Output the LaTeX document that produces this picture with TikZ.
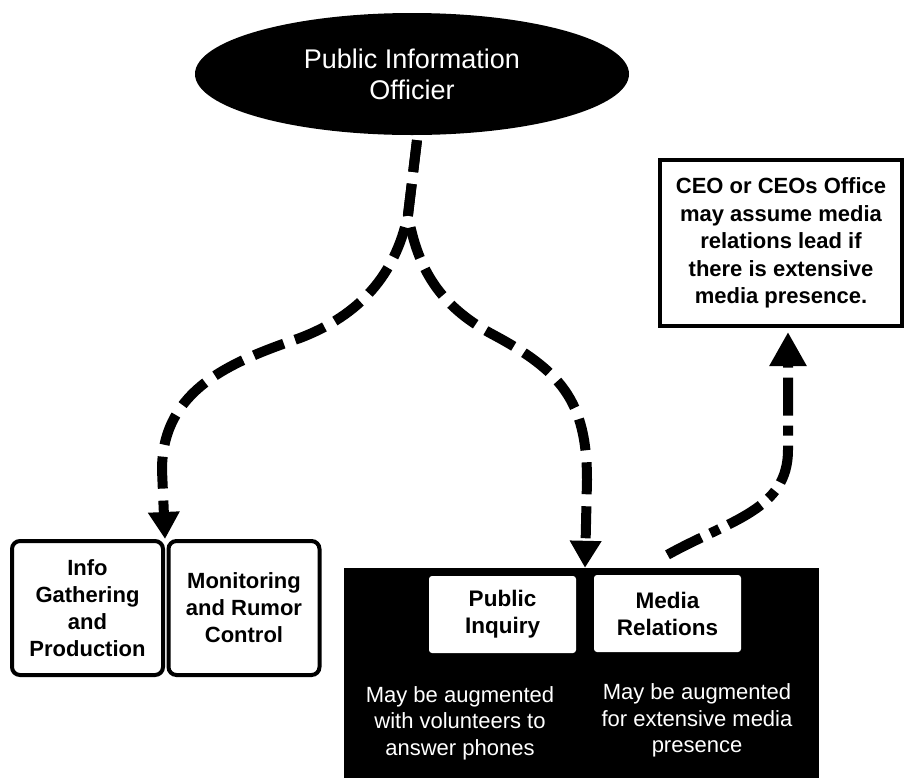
\documentclass[tikz,border=0pt]{standalone}
\usepackage{fontspec}
\setmainfont{Liberation Sans}
\usetikzlibrary{arrows.meta,shapes.geometric,calc}
\begin{document}
\begin{tikzpicture}[x=1pt,y=-1pt,
  flow/.style={line width=10pt, dash pattern=on 32pt off 12pt,
    -{Triangle[length=27pt,width=30pt]}},
  flowdot/.style={line width=10pt, dash pattern=on 38pt off 10pt on 10pt off 10pt,
    -{Triangle[length=34pt,width=35pt]}},
  unitbox/.style={draw, line width=4pt, rounded corners=8pt, fill=white,
    minimum width=151pt, minimum height=134pt, inner sep=0pt, align=center,
    font=\fontsize{22}{27}\selectfont\bfseries},
  teambox/.style={fill=white, rounded corners=3pt, minimum width=147pt,
    minimum height=77pt, inner sep=0pt, align=center,
    font=\fontsize{22.5}{27}\selectfont\bfseries},
  note/.style={text=white, align=center, inner sep=0pt,
    font=\fontsize{22}{26.5}\selectfont}
]
\useasboundingbox (0,0) rectangle (905,777);

% head of the unit
\node[ellipse, fill=black, text=white, minimum width=434pt, minimum height=122pt,
  inner sep=0pt, align=center, font=\fontsize{27}{31}\selectfont]
  (pio) at (412,74) {Public Information\\Officier};

% executive note
\node[draw, line width=4pt, fill=white, minimum width=242pt, minimum height=166pt,
  inner sep=0pt, align=center, font=\fontsize{22}{27.5}\selectfont\bfseries]
  (ceo) at (781,243) {CEO or CEOs Office\\may assume media\\relations lead if\\there is extensive\\media presence.};

% left pair of units
\node[unitbox] (info) at (87.5,608) {Info\\Gathering\\and\\Production};
\node[unitbox] (mon) at (244,608) {Monitoring\\and Rumor\\Control};

% black panel with the two public-facing units
\node[fill=black, minimum width=475pt, minimum height=230pt, inner sep=0pt]
  (team) at (581.5,683) {};
\node[teambox] (inq) at (502.5,614.5) {Public\\Inquiry};
\node[teambox] (med) at (667.5,613.5) {Media\\Relations};
\node[note] (inqnote) at (460,723) {May be augmented\\with volunteers to\\answer phones};
\node[note] (mednote) at (697,720.5) {May be augmented\\for extensive media\\presence};

% connectors
\coordinate (split) at (408,215);
\coordinate (gap) at ($(inq.north east)!.5!(med.north west)$);

\draw[flow] ([shift={(5pt,-5pt)}]pio.south) -- (split)
  .. controls (395,275) and (360,315) .. (300,338)
  .. controls (230,362) and (162,390) .. (162,470)
  -- (info.north east);

\draw[flow] ([shift={(5pt,-5pt)}]pio.south) -- (split)
  .. controls (418,270) and (440,305) .. (490,333)
  .. controls (560,370) and (587,400) .. (587,480)
  -- (gap |- team.north);

\draw[flowdot] ([yshift=20pt]med.north)
  .. controls (730,520) and (788,510) .. (788,450)
  -- ([xshift=7pt,yshift=-4pt]ceo.south);
\end{tikzpicture}
\end{document}
